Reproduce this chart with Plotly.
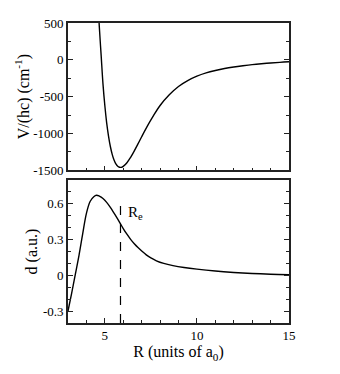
import plotly.graph_objects as go
from plotly.subplots import make_subplots

# potential curve V/(hc) in cm^-1
r_pot = [4.6, 4.7, 4.8, 4.9, 5.0, 5.1, 5.2, 5.3, 5.4, 5.5, 5.6, 5.7, 5.8, 5.9,
         6.0, 6.2, 6.4, 6.6, 6.8, 7.0, 7.3, 7.6, 8.0, 8.5, 9.0, 9.5, 10, 10.5,
         11, 11.5, 12, 12.5, 13, 13.5, 14, 14.5, 15]
v_pot = [970, 450, 60, -330, -620, -855, -1035, -1177, -1283, -1360, -1413,
         -1444, -1458, -1460, -1447, -1397, -1323, -1236, -1142, -1044, -903,
         -775, -620, -475, -362, -282, -222, -178, -145, -118, -97, -80, -65,
         -53, -43, -34, -27]

# dipole d in a.u.
r_dip = [3.0, 3.2, 3.4, 3.6, 3.8, 4.0, 4.2, 4.4, 4.55, 4.7, 4.9, 5.1, 5.3, 5.5,
         5.7, 5.85, 6.0, 6.2, 6.4, 6.6, 6.8, 7.0, 7.25, 7.5, 7.8, 8.2, 8.7, 9.3,
         10, 11, 12, 13, 14, 15]
d_dip = [-0.30, -0.15, 0.01, 0.17, 0.35, 0.52, 0.62, 0.66, 0.672, 0.665, 0.645,
         0.612, 0.57, 0.522, 0.472, 0.432, 0.393, 0.345, 0.302, 0.265, 0.233,
         0.205, 0.172, 0.146, 0.122, 0.100, 0.082, 0.066, 0.052, 0.036, 0.024,
         0.015, 0.009, 0.005]

r_e = 5.85
re_line_y = [-0.4, 0.6]

v_ticks = [-1500, -1000, -500, 0, 500]
v_ticktext = ["-1500", "-1000", "-500", "0", "500"]
d_ticks = [-0.3, 0, 0.3, 0.6]
d_ticktext = ["-0.3", "0", "0.3", "0.6"]
r_ticks = [5, 10, 15]

FONT = "Liberation Serif, DejaVu Serif, serif"

fig = make_subplots(rows=2, cols=1, shared_xaxes=False, vertical_spacing=0.03)

fig.add_trace(go.Scatter(x=r_pot, y=v_pot, mode="lines", line_shape="spline",
                         line=dict(color="black", width=1.4)), row=1, col=1)
fig.add_trace(go.Scatter(x=r_dip, y=d_dip, mode="lines", line_shape="spline",
                         line=dict(color="black", width=1.4)), row=2, col=1)
fig.add_trace(go.Scatter(x=[r_e, r_e], y=re_line_y, mode="lines",
                         line=dict(color="black", width=1.2, dash="dash")),
              row=2, col=1)

tick_font = dict(family=FONT, size=13, color="black")
title_font = dict(family=FONT, size=16, color="black")

axis_common = dict(showline=True, linecolor="#222", linewidth=1.6,
                   ticks="inside", tickcolor="#222", tickwidth=1.2,
                   showgrid=False, zeroline=False)

fig.update_xaxes(**axis_common, range=[3, 15], tickvals=r_ticks, ticklen=5,
                 mirror=True, tickfont=tick_font,
                 minor=dict(dtick=1, ticks="inside", ticklen=3, tickcolor="#222"))
fig.update_xaxes(showticklabels=False, row=1, col=1)
fig.update_xaxes(title_text="R (units of a<sub>0</sub>)", title_font=title_font,
                 title_standoff=2, row=2, col=1)

fig.update_yaxes(**axis_common, mirror="ticks", ticklen=5, tickfont=tick_font)
fig.update_yaxes(range=[-1500, 500], tickvals=v_ticks, ticktext=v_ticktext,
                 minor=dict(dtick=250, tick0=0, ticks="inside", ticklen=3,
                            tickcolor="#222"),
                 title_text="V/(hc) (cm<sup>-1</sup>)", title_font=title_font,
                 title_standoff=0, row=1, col=1)
fig.update_yaxes(range=[-0.4, 0.8], tickvals=d_ticks, ticktext=d_ticktext,
                 minor=dict(dtick=0.1, tick0=0, ticks="inside", ticklen=3,
                            tickcolor="#222"),
                 title_text="d (a.u.)", title_font=title_font,
                 title_standoff=1, row=2, col=1)

# the page body adds an 8px offset, so the figure is drawn 8px smaller
fig.update_layout(
    width=332, height=366,
    margin=dict(l=60, r=51, t=8, b=51),
    paper_bgcolor="white", plot_bgcolor="white",
    showlegend=False,
    font=dict(family=FONT, color="black", size=13),
    yaxis=dict(domain=[0.509, 1.0]),
    yaxis2=dict(domain=[0.0, 0.4766]),
)
fig.add_annotation(x=6.15, y=0.615, xref="x2", yref="y2",
                   text="R<sub>e</sub>", showarrow=False,
                   xanchor="left", yanchor="top",
                   font=dict(family=FONT, size=15, color="black"))

fig.write_html("out.html")
